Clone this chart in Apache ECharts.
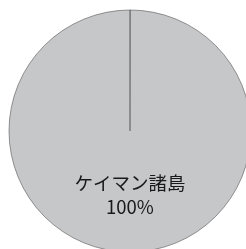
<!DOCTYPE html>
<html>
<head>
<meta charset="utf-8">
<script src="https://cdn.jsdelivr.net/npm/echarts@6/dist/echarts.min.js"></script>
<style>
  html, body { margin: 0; padding: 0; background: #ffffff; }
  #main { width: 246px; height: 249px; }
</style>
</head>
<body>
<div id="main"></div>
<script>
// 国・地域と割合
var names = ['', 'ケイマン諸島']
var values = [0, 100]

var chart = echarts.init(document.getElementById('main'))
var pieData = []
for (var i = 0; i < names.length; i++) {
  var item = { name: names[i], value: values[i] }
  if (values[i] === 0) {
    // 開始位置の境界線だけ描く
    item.label = { show: false }
    item.itemStyle = { color: '#000000', borderColor: '#000000', borderWidth: 1 }
  }
  pieData.push(item)
}
chart.setOption({
  animation: false,
  series: [
    {
      type: 'pie',
      center: [130, 131],
      radius: 121,
      startAngle: 90,
      clockwise: true,
      minAngle: 0.05,
      avoidLabelOverlap: false,
      color: ['#c6c7c9'],
      itemStyle: { borderColor: '#555555', borderWidth: 0.6 },
      label: {
        show: true,
        position: 'inside',
        formatter: '{b}\n{d}%',
        color: '#1a1a1a',
        fontSize: 18.5,
        lineHeight: 24,
        fontFamily: 'Noto Sans CJK JP'
      },
      labelLine: { show: false },
      emphasis: { disabled: true },
      data: pieData
    }
  ]
})
</script>
</body>
</html>
